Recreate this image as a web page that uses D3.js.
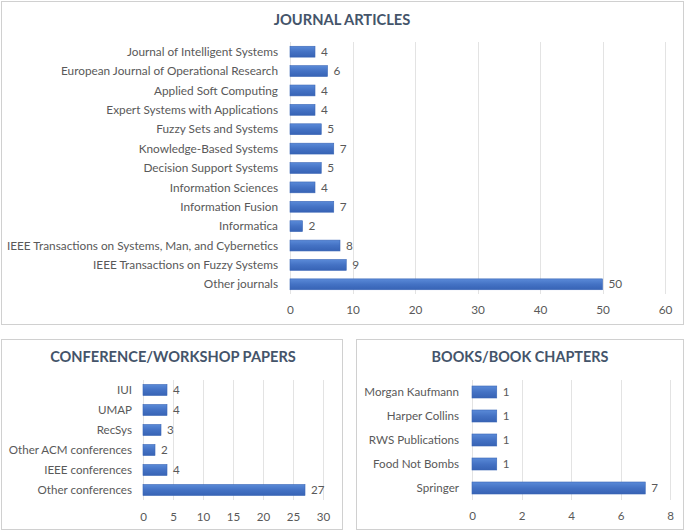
<!DOCTYPE html>
<html>
<head>
<meta charset="utf-8">
<script src="https://cdn.jsdelivr.net/npm/d3@7"></script>
<style>
  body { margin: 0; background: #fff; }
  svg text { font-family: Lato, "Open Sans", sans-serif; }
</style>
</head>
<body>
<svg id="chart" width="685" height="531"></svg>
<script>
// journal articles
const journalNames = ["Journal of Intelligent Systems", "European Journal of Operational Research",
  "Applied Soft Computing", "Expert Systems with Applications", "Fuzzy Sets and Systems",
  "Knowledge-Based Systems", "Decision Support Systems", "Information Sciences", "Information Fusion",
  "Informatica", "IEEE Transactions on Systems, Man, and Cybernetics", "IEEE Transactions on Fuzzy Systems",
  "Other journals"];
const journalCounts = [4, 6, 4, 4, 5, 7, 5, 4, 7, 2, 8, 9, 50];
const journalTicks = [0, 10, 20, 30, 40, 50, 60];

// conference / workshop papers
const confNames = ["IUI", "UMAP", "RecSys", "Other ACM conferences", "IEEE conferences", "Other conferences"];
const confCounts = [4, 4, 3, 2, 4, 27];
const confTicks = [0, 5, 10, 15, 20, 25, 30];

// books / book chapters
const bookNames = ["Morgan Kaufmann", "Harper Collins", "RWS Publications", "Food Not Bombs", "Springer"];
const bookCounts = [1, 1, 1, 1, 7];
const bookTicks = [0, 2, 4, 6, 8];

const svg = d3.select("#chart");

// gradient for the bars, excel style
const grad = svg.append("defs").append("linearGradient")
  .attr("id", "barGrad").attr("x1", 0).attr("y1", 0).attr("x2", 0).attr("y2", 1);
grad.append("stop").attr("offset", "0%").attr("stop-color", "#5a8ad8");
grad.append("stop").attr("offset", "50%").attr("stop-color", "#4472c4");
grad.append("stop").attr("offset", "100%").attr("stop-color", "#3763b5");

function drawPanel(opt) {
  const g = svg.append("g");

  // panel frame
  g.append("rect")
    .attr("x", opt.box[0] + 0.5).attr("y", opt.box[1] + 0.5)
    .attr("width", opt.box[2]).attr("height", opt.box[3])
    .attr("fill", "white").attr("stroke", "#d0d0d0");

  g.append("text")
    .attr("x", opt.titleX).attr("y", opt.titleY)
    .attr("text-anchor", "middle")
    .attr("font-size", opt.titleSize).attr("font-weight", "bold")
    .attr("fill", "#44546a")
    .text(opt.title);

  const x = d3.scaleLinear().domain(d3.extent(opt.ticks)).range(opt.xRange);
  const y = d3.scaleBand().domain(opt.names).range(opt.yRange).paddingInner(opt.pad).paddingOuter(opt.pad / 2);

  // gridlines
  g.selectAll(".grid").data(opt.ticks).join("line")
    .attr("x1", d => Math.round(x(d)) + 0.5).attr("x2", d => Math.round(x(d)) + 0.5)
    .attr("y1", opt.yRange[0]).attr("y2", opt.yRange[1])
    .attr("stroke", "#e3e3e3");

  // tick labels
  const axis = g.append("g")
    .attr("transform", `translate(0,${opt.yRange[1]})`)
    .call(d3.axisBottom(x).tickValues(opt.ticks).tickSize(0).tickPadding(opt.tickPad));
  axis.select(".domain").remove();
  axis.selectAll("text").attr("font-size", opt.fontSize).attr("fill", "#595959")
    .style("font-family", "Lato, sans-serif");

  // category labels
  g.selectAll(".cat").data(opt.names).join("text")
    .attr("x", opt.xRange[0] - opt.labelGap)
    .attr("y", d => y(d) + y.bandwidth() / 2)
    .attr("dy", "0.35em")
    .attr("text-anchor", "end")
    .attr("font-size", opt.fontSize).attr("fill", "#595959")
    .text(d => d);

  // bars
  g.selectAll(".bar").data(opt.values).join("rect")
    .attr("x", x(0))
    .attr("y", (d, i) => y(opt.names[i]))
    .attr("width", d => x(d) - x(0))
    .attr("height", y.bandwidth())
    .attr("fill", "url(#barGrad)")
    .attr("stroke", "#3a66b6").attr("stroke-width", 0.6);

  // value labels
  g.selectAll(".val").data(opt.values).join("text")
    .attr("x", d => x(d) + 6)
    .attr("y", (d, i) => y(opt.names[i]) + y.bandwidth() / 2)
    .attr("dy", "0.35em")
    .attr("font-size", opt.fontSize).attr("fill", "#595959")
    .text(d => d);
}

drawPanel({
  title: "JOURNAL ARTICLES", names: journalNames, values: journalCounts, ticks: journalTicks,
  box: [1, 1, 682, 323], titleX: 342, titleY: 25, titleSize: 14.7,
  xRange: [290, 665], yRange: [42, 294], pad: 0.44, fontSize: 11.8, tickPad: 12, labelGap: 12
});

drawPanel({
  title: "CONFERENCE/WORKSHOP PAPERS", names: confNames, values: confCounts, ticks: confTicks,
  box: [1, 339, 341, 190], titleX: 173, titleY: 362, titleSize: 14.6,
  xRange: [143, 323], yRange: [380, 500], pad: 0.45, fontSize: 11.6, tickPad: 13, labelGap: 11
});

drawPanel({
  title: "BOOKS/BOOK CHAPTERS", names: bookNames, values: bookCounts, ticks: bookTicks,
  box: [356, 339, 327, 190], titleX: 520, titleY: 362, titleSize: 14.4,
  xRange: [472, 670], yRange: [380, 500], pad: 0.5, fontSize: 11.6, tickPad: 12, labelGap: 13
});
</script>
</body>
</html>
